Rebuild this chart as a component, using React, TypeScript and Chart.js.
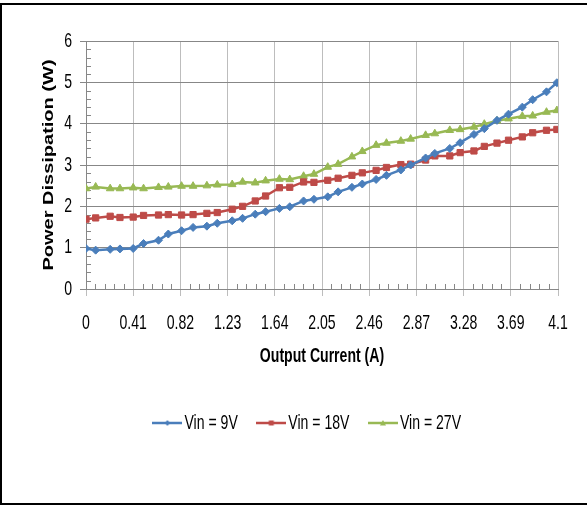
import React, { useEffect, useRef } from 'react';
import { Chart, registerables } from 'chart.js';

Chart.register(...registerables);

// ---- data ----
const currentA = [0, 0.084, 0.21, 0.295, 0.41, 0.5, 0.63, 0.715, 0.83, 0.93, 1.05, 1.14, 1.27, 1.36, 1.47, 1.56, 1.68, 1.77, 1.89, 1.98, 2.1, 2.19, 2.31, 2.4, 2.52, 2.61, 2.735, 2.82, 2.95, 3.03, 3.16, 3.25, 3.37, 3.46, 3.57, 3.67, 3.79, 3.88, 4.0, 4.09];
const vin9W = [0.98, 0.94, 0.96, 0.97, 0.98, 1.1, 1.18, 1.33, 1.41, 1.49, 1.52, 1.59, 1.65, 1.71, 1.81, 1.87, 1.95, 1.99, 2.13, 2.17, 2.23, 2.35, 2.46, 2.54, 2.65, 2.75, 2.88, 3.0, 3.17, 3.28, 3.4, 3.54, 3.74, 3.88, 4.08, 4.23, 4.4, 4.58, 4.77, 4.99];
const vin18W = [1.69, 1.72, 1.76, 1.73, 1.74, 1.78, 1.79, 1.8, 1.79, 1.8, 1.83, 1.85, 1.93, 2.0, 2.13, 2.25, 2.45, 2.46, 2.59, 2.58, 2.63, 2.68, 2.75, 2.81, 2.87, 2.94, 3.01, 3.02, 3.12, 3.22, 3.22, 3.3, 3.34, 3.45, 3.53, 3.6, 3.68, 3.78, 3.84, 3.86];
const vin27W = [2.43, 2.47, 2.43, 2.43, 2.45, 2.43, 2.46, 2.47, 2.49, 2.49, 2.5, 2.52, 2.53, 2.59, 2.57, 2.62, 2.66, 2.65, 2.73, 2.78, 2.95, 3.02, 3.2, 3.33, 3.48, 3.53, 3.58, 3.63, 3.72, 3.76, 3.84, 3.86, 3.92, 3.99, 4.07, 4.12, 4.18, 4.19, 4.28, 4.32];
const seriesLabels = ['Vin = 9V', 'Vin = 18V', 'Vin = 27V'];
const xTickValues = [0, 0.41, 0.82, 1.23, 1.64, 2.05, 2.46, 2.87, 3.28, 3.69, 4.1];
const xTickLabels = ['0', '0.41', '0.82', '1.23', '1.64', '2.05', '2.46', '2.87', '3.28', '3.69', '4.1'];
const yTickValues = [0, 1, 2, 3, 4, 5, 6];
const yTickLabels = ['0', '1', '2', '3', '4', '5', '6'];
const xMinorStep = 0.082;
const yMinorStep = 0.2;
const xTitle = 'Output Current (A)';
const yTitle = 'Power Dissipation (W)';

// ---- styles ----
const COLORS = ['#4A7EBB', '#BE4B48', '#98B954'];
const POINT_STYLES = ['rectRot', 'rect', 'triangle'];
const DARK_GRID = '#878787';
const LIGHT_GRID = '#BDBDBD';
const FONT = "'Liberation Sans', Arial, sans-serif";
const TEXT_SQUEEZE = 0.67; // the reference's lettering is horizontally condensed
const ROTATED_SQUEEZE = 0.75;
const LEGEND_DX = 32;

// Draw all canvas text horizontally condensed (on screen), like the reference.
function condenseText(ctx: CanvasRenderingContext2D, sx: number, sxRot: number) {
  const anyCtx = ctx as any;
  if (anyCtx.__condensed) return;
  anyCtx.__condensed = true;
  const origFill = ctx.fillText.bind(ctx);
  const origMeasure = ctx.measureText.bind(ctx);
  anyCtx.fillText = (text: string, x: number, y: number, maxWidth?: number) => {
    const m = ctx.getTransform();
    const rotated = Math.abs(m.b) > Math.abs(m.a);
    ctx.save();
    ctx.translate(x, y);
    if (rotated) {
      ctx.scale(1, sxRot);
      if (maxWidth === undefined) origFill(text, 0, 0);
      else origFill(text, 0, 0, maxWidth);
    } else {
      ctx.scale(sx, 1);
      if (maxWidth === undefined) origFill(text, 0, 0);
      else origFill(text, 0, 0, maxWidth / sx);
    }
    ctx.restore();
  };
  anyCtx.measureText = (text: string) => {
    const r = origMeasure(text);
    return {
      width: r.width * sx,
      actualBoundingBoxAscent: r.actualBoundingBoxAscent,
      actualBoundingBoxDescent: r.actualBoundingBoxDescent,
      actualBoundingBoxLeft: r.actualBoundingBoxLeft * sx,
      actualBoundingBoxRight: r.actualBoundingBoxRight * sx,
      fontBoundingBoxAscent: (r as any).fontBoundingBoxAscent,
      fontBoundingBoxDescent: (r as any).fontBoundingBoxDescent,
    };
  };
}

function makeLegendIcon(color: string, style: string): HTMLCanvasElement {
  const c = document.createElement('canvas');
  c.width = 30;
  c.height = 10;
  const ctx = c.getContext('2d')!;
  ctx.strokeStyle = color;
  ctx.fillStyle = color;
  ctx.lineWidth = 2.5;
  ctx.beginPath();
  ctx.moveTo(0, 5);
  ctx.lineTo(30, 5);
  ctx.stroke();
  ctx.beginPath();
  if (style === 'rect') {
    ctx.rect(12.5, 2.5, 5, 5);
  } else if (style === 'triangle') {
    ctx.moveTo(15, 2);
    ctx.lineTo(18, 7.5);
    ctx.lineTo(12, 7.5);
    ctx.closePath();
  } else {
    ctx.moveTo(15, 2);
    ctx.lineTo(17.5, 5);
    ctx.lineTo(15, 8);
    ctx.lineTo(12.5, 5);
    ctx.closePath();
  }
  ctx.fill();
  return c;
}

const minorTicksPlugin = {
  id: 'minorTicks',
  beforeDatasetsDraw(chart: any) {
    const { ctx, chartArea, scales } = chart;
    const xs = scales.x;
    const ys = scales.y;
    ctx.save();
    ctx.strokeStyle = DARK_GRID;
    ctx.lineWidth = 1;
    ctx.beginPath();
    const xMax = xTickValues[xTickValues.length - 1];
    const xMajor = xTickValues[1] - xTickValues[0];
    for (let i = 1; i * xMinorStep < xMax + 1e-9; i++) {
      const v = i * xMinorStep;
      const r = v / xMajor;
      if (Math.abs(r - Math.round(r)) < 1e-6) continue;
      const px = Math.round(xs.getPixelForValue(v)) + 0.5;
      ctx.moveTo(px, chartArea.bottom);
      ctx.lineTo(px, chartArea.bottom - 5);
    }
    const yMax = yTickValues[yTickValues.length - 1];
    for (let i = 1; i * yMinorStep < yMax + 1e-9; i++) {
      const v = i * yMinorStep;
      if (Math.abs(v - Math.round(v)) < 1e-6) continue;
      const py = Math.round(ys.getPixelForValue(v)) + 0.5;
      ctx.moveTo(chartArea.left, py);
      ctx.lineTo(chartArea.left + 5, py);
    }
    ctx.stroke();
    ctx.restore();
  },
};

const legendShiftPlugin = {
  id: 'legendShift',
  afterLayout(chart: any) {
    const lg = chart.legend;
    if (lg) {
      lg.left += LEGEND_DX;
      lg.right += LEGEND_DX;
    }
  },
};

export default function App() {
  const canvasRef = useRef<HTMLCanvasElement | null>(null);

  useEffect(() => {
    const canvas = canvasRef.current;
    if (!canvas) return;
    const ctx2d = canvas.getContext('2d');
    if (ctx2d) condenseText(ctx2d, TEXT_SQUEEZE, ROTATED_SQUEEZE);
    const series = [vin9W, vin18W, vin27W];
    const icons = COLORS.map((c, i) => makeLegendIcon(c, POINT_STYLES[i]));
    const chart = new Chart(canvas, {
      type: 'line',
      data: {
        datasets: series.map((vals, i) => ({
          label: seriesLabels[i],
          data: currentA.map((x, j) => ({ x, y: vals[j] })),
          borderColor: COLORS[i],
          backgroundColor: COLORS[i],
          borderWidth: 2.5,
          pointStyle: POINT_STYLES[i] as any,
          pointRadius: i === 0 ? 4 : 4.4,
          pointBorderWidth: 1,
          pointBorderColor: COLORS[i],
          pointBackgroundColor: COLORS[i],
          tension: 0,
        })),
      },
      options: {
        animation: false,
        responsive: false,
        devicePixelRatio: 1,
        events: [],
        layout: { padding: { left: 0, right: 29, top: 41, bottom: 62.5 } },
        plugins: {
          tooltip: { enabled: false },
          legend: {
            position: 'bottom',
            labels: {
              usePointStyle: true,
              pointStyleWidth: 13,
              padding: 27,
              color: '#000',
              font: { family: FONT, size: 21 },
              generateLabels: (ch: any) => {
                const items = (Chart.defaults.plugins.legend.labels as any).generateLabels(ch);
                return items.map((it: any, i: number) => ({ ...it, pointStyle: icons[i] }));
              },
            },
          },
        },
        scales: {
          x: {
            type: 'linear',
            min: 0,
            max: 4.1,
            afterBuildTicks: (s: any) => {
              s.ticks = xTickValues.map((v) => ({ value: v }));
            },
            afterFit: (s: any) => {
              s.height = 96.5;
            },
            ticks: {
              callback: (_v: any, i: number) => xTickLabels[i],
              color: '#000',
              font: { family: FONT, size: 21 },
              padding: 15,
              maxRotation: 0,
              autoSkip: false,
            },
            grid: { color: LIGHT_GRID, lineWidth: 1, tickLength: 7, drawTicks: true },
            border: { color: DARK_GRID, width: 1 },
            title: {
              display: true,
              text: xTitle,
              color: '#000',
              font: { family: FONT, size: 21, weight: 'bold' },
              padding: { top: 0, bottom: 16.4 },
            },
          },
          y: {
            type: 'linear',
            min: 0,
            max: 6,
            afterBuildTicks: (s: any) => {
              s.ticks = yTickValues.map((v) => ({ value: v }));
            },
            afterFit: (s: any) => {
              s.width = 86;
            },
            ticks: {
              callback: (_v: any, i: number) => yTickLabels[i],
              color: '#000',
              font: { family: FONT, size: 21 },
              padding: 8,
            },
            grid: { color: DARK_GRID, lineWidth: 1, tickLength: 6, drawTicks: true },
            border: { color: DARK_GRID, width: 1 },
            title: {
              display: true,
              text: yTitle,
              color: '#000',
              font: { family: FONT, size: 20, weight: 'bold' },
              padding: { top: 37, bottom: 0 },
            },
          },
        },
      } as any,
      plugins: [minorTicksPlugin, legendShiftPlugin],
    });
    return () => chart.destroy();
  }, []);

  return (
    <div style={{ position: 'absolute', left: 0, top: 0, width: 587, height: 506, overflow: 'hidden', background: '#fff' }}>
      <div style={{ position: 'absolute', left: 0, top: 3, width: 600, height: 498, border: '2px solid #000' }} />
      <canvas ref={canvasRef} width={587} height={506} style={{ position: 'absolute', left: 0, top: 0, width: 587, height: 506 }} />
    </div>
  );
}
